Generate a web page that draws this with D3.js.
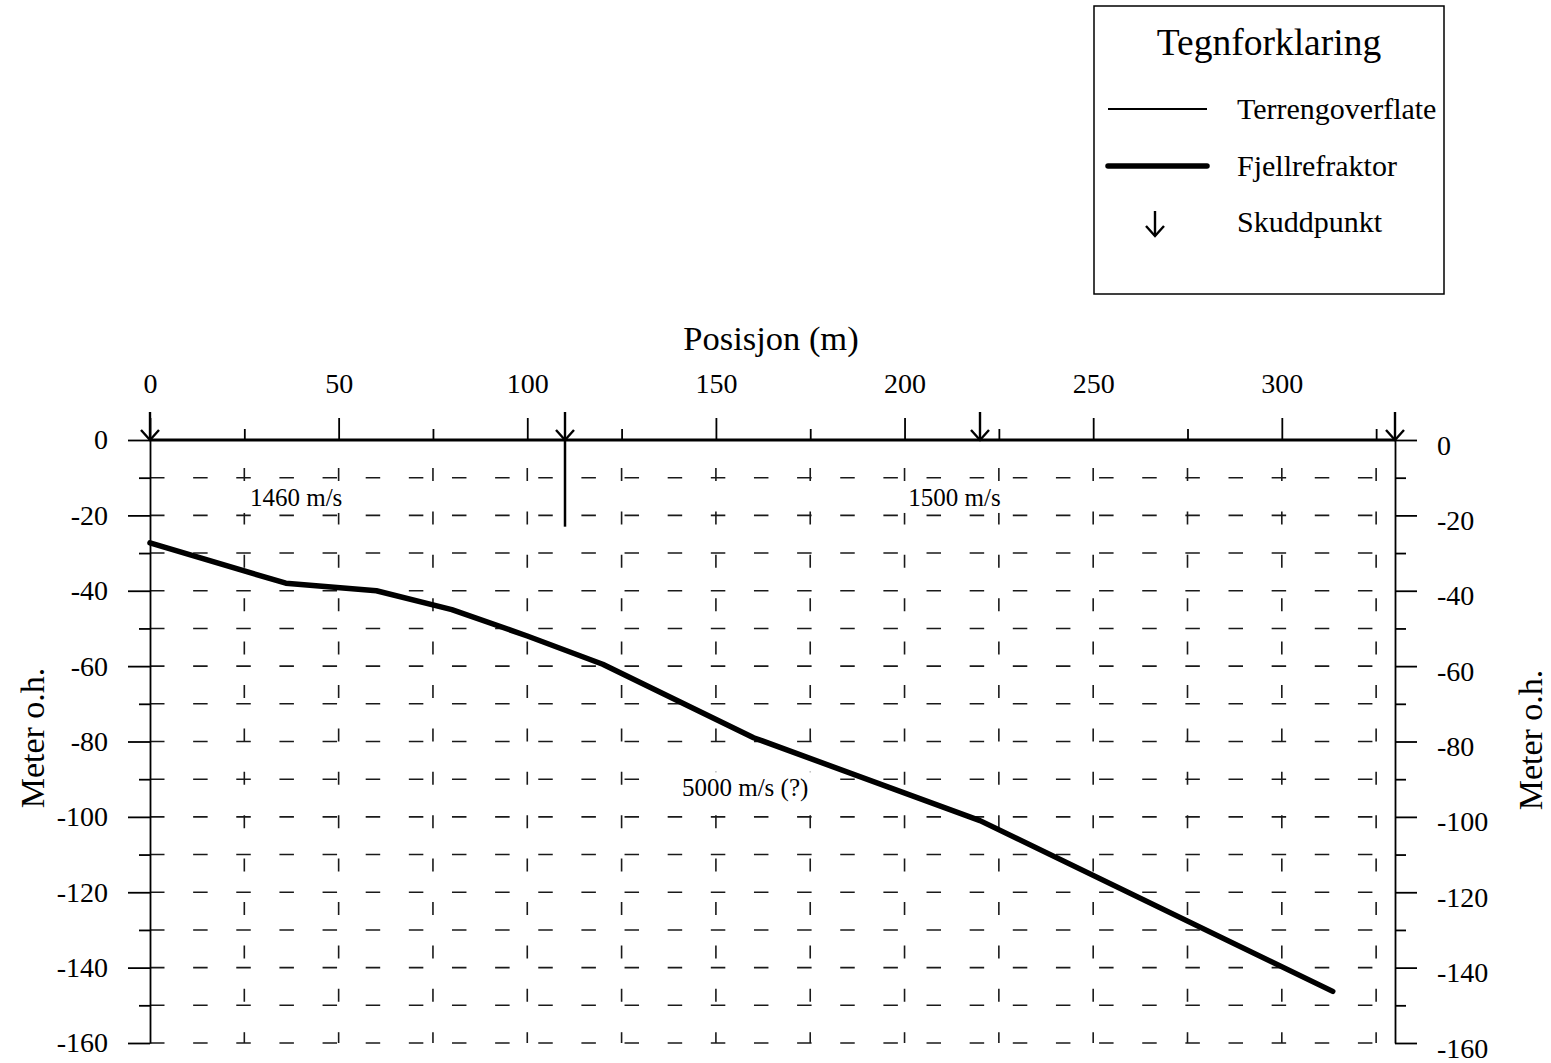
<!DOCTYPE html>
<html>
<head>
<meta charset="utf-8">
<script src="https://cdn.jsdelivr.net/npm/d3@7"></script>
<style>
  html, body { margin: 0; padding: 0; background: #fff; }
  svg { display: block; }
  text { font-family: "Liberation Serif", "Times New Roman", serif; fill: #000; }
</style>
</head>
<body>
<svg id="chart" width="1551" height="1063"></svg>
<script>
// ---- Data ----
const xTicksMajor = [0, 50, 100, 150, 200, 250, 300];
const xTicksMinor = [25, 75, 125, 175, 225, 275, 325];
const yTicksMajor = [0, -20, -40, -60, -80, -100, -120, -140, -160];
const yTicksMinor = [-10, -30, -50, -70, -90, -110, -130, -150];
const gridX = [25, 50, 75, 100, 125, 150, 175, 200, 225, 250, 275, 300, 325];
const gridY = [-10, -20, -30, -40, -50, -60, -70, -80, -90, -100, -110, -120, -130, -140, -150, -160];

// Terrain surface (Terrengoverflate)
const terrainX = [0, 110, 220, 330];
const terrainY = [0, 0, 0, 0];

// Bedrock refractor (Fjellrefraktor)
const refrX = [0, 36, 60, 80, 100, 120, 160, 220, 313.5];
const refrY = [-27.3, -38, -40, -45, -52, -59.5, -79, -101, -146.3];

// Shot points (Skuddpunkt)
const shotX = [0, 110, 220, 330];

// Layer boundary marker in the upper layer
const boundaryX = [110, 110];
const boundaryY = [0, -23];

// Velocity labels
const velLabels = ["1460 m/s", "1500 m/s", "5000 m/s (?)"];
const velX = [26.5, 201, 141];
const velY = [-17.5, -17.5, -94.5];

const legendLabels = ["Terrengoverflate", "Fjellrefraktor", "Skuddpunkt"];

// ---- Scales ----
const svg = d3.select("#chart");
const x = d3.scaleLinear().domain([0, 330]).range([150, 1395]);
const y = d3.scaleLinear().domain([-160, 0]).range([1043, 440]);
const fmt = d => String(d);

// ---- Grid ----
const grid = svg.append("g").attr("stroke", "#1a1a1a").attr("stroke-width", 1.6).attr("fill", "none");
grid.selectAll("line.h").data(gridY).join("line")
  .attr("class", "h")
  .attr("x1", x(0)).attr("x2", x(330))
  .attr("y1", d => y(d)).attr("y2", d => y(d))
  .attr("stroke-dasharray", "14.5 28.64");
grid.selectAll("line.v").data(gridX).join("line")
  .attr("class", "v")
  .attr("x1", d => x(d)).attr("x2", d => x(d))
  .attr("y1", y(0)).attr("y2", y(-160))
  .attr("stroke-dasharray", "13 30.4")
  .attr("stroke-dashoffset", 15.4);

// ---- Axes ----
function styleAxis(g, fontSize) {
  g.selectAll("text").style("font-family", "'Liberation Serif', 'Times New Roman', serif")
    .style("font-size", fontSize + "px").attr("fill", "#000");
  g.selectAll("line").attr("stroke", "#000").attr("stroke-width", 1.8);
  g.select(".domain").attr("stroke", "#000").attr("stroke-width", 1.8);
}
const TF = 28;

// Top axis
const topMaj = svg.append("g").attr("transform", `translate(0,${y(0)})`)
  .call(d3.axisTop(x).tickValues(xTicksMajor).tickFormat(fmt).tickSize(22).tickPadding(25).tickSizeOuter(0));
styleAxis(topMaj, TF);
topMaj.select(".domain").remove();
const topMin = svg.append("g").attr("transform", `translate(0,${y(0)})`)
  .call(d3.axisTop(x).tickValues(xTicksMinor).tickSize(11).tickFormat(""));
styleAxis(topMin, TF);
topMin.select(".domain").remove();

// Left axis
const leftMaj = svg.append("g").attr("transform", `translate(${x(0)},0)`)
  .call(d3.axisLeft(y).tickValues(yTicksMajor).tickFormat(fmt).tickSize(22).tickPadding(20).tickSizeOuter(0));
styleAxis(leftMaj, TF);
const leftMin = svg.append("g").attr("transform", `translate(${x(0)},0)`)
  .call(d3.axisLeft(y).tickValues(yTicksMinor).tickSize(11).tickFormat(""));
styleAxis(leftMin, TF);
leftMin.select(".domain").remove();

// Right axis
const rightMaj = svg.append("g").attr("transform", `translate(${x(330)},0)`)
  .call(d3.axisRight(y).tickValues(yTicksMajor).tickFormat(fmt).tickSize(22).tickPadding(20).tickSizeOuter(0));
styleAxis(rightMaj, TF);
rightMaj.selectAll(".tick text").attr("dy", "0.5em");
const rightMin = svg.append("g").attr("transform", `translate(${x(330)},0)`)
  .call(d3.axisRight(y).tickValues(yTicksMinor).tickSize(11).tickFormat(""));
styleAxis(rightMin, TF);
rightMin.select(".domain").remove();

// ---- Terrain line ----
const line = d3.line().x(d => x(d[0])).y(d => y(d[1]));
svg.append("path")
  .datum(terrainX.map((d, i) => [d, terrainY[i]]))
  .attr("d", line).attr("fill", "none").attr("stroke", "#000").attr("stroke-width", 3);

// ---- Boundary marker ----
svg.append("path")
  .datum(boundaryX.map((d, i) => [d, boundaryY[i]]))
  .attr("d", line).attr("fill", "none").attr("stroke", "#000").attr("stroke-width", 2.5);

// ---- Velocity labels (with white background) ----
const velG = svg.append("g");
velLabels.forEach((lab, i) => {
  const t = velG.append("text")
    .attr("x", x(velX[i])).attr("y", y(velY[i]))
    .style("font-size", "25px").text(lab);
  const bb = t.node().getBBox();
  velG.insert("rect", "text")
    .attr("x", bb.x - 18).attr("y", bb.y - 2)
    .attr("width", bb.width + 36).attr("height", bb.height + 4)
    .attr("fill", "#fff");
});

// ---- Refractor line ----
svg.append("path")
  .datum(refrX.map((d, i) => [d, refrY[i]]))
  .attr("d", line).attr("fill", "none").attr("stroke", "#000")
  .attr("stroke-width", 5.5).attr("stroke-linejoin", "round").attr("stroke-linecap", "round");

// ---- Shot point arrows ----
function arrow(g, cx, yTop, yBot) {
  g.append("line").attr("x1", cx).attr("x2", cx).attr("y1", yTop).attr("y2", yBot)
    .attr("stroke", "#000").attr("stroke-width", 2.4);
  g.append("path")
    .attr("d", `M${cx - 9},${yBot - 10} L${cx},${yBot} L${cx + 9},${yBot - 10}`)
    .attr("fill", "none").attr("stroke", "#000").attr("stroke-width", 2.4);
}
const shots = svg.append("g");
shotX.forEach(s => arrow(shots, x(s), y(0) - 28, y(0)));

// ---- Axis titles ----
svg.append("text").attr("x", 771).attr("y", 350).attr("text-anchor", "middle")
  .style("font-size", "34.5px").text("Posisjon (m)");
svg.append("text").attr("transform", "translate(44,738) rotate(-90)").attr("text-anchor", "middle")
  .style("font-size", "34px").text("Meter o.h.");
svg.append("text").attr("transform", "translate(1542,740) rotate(-90)").attr("text-anchor", "middle")
  .style("font-size", "34px").text("Meter o.h.");

// ---- Legend ----
const lg = svg.append("g");
lg.append("rect").attr("x", 1094).attr("y", 6).attr("width", 350).attr("height", 288)
  .attr("fill", "#fff").attr("stroke", "#000").attr("stroke-width", 1.5);
lg.append("text").attr("x", 1269).attr("y", 55).attr("text-anchor", "middle")
  .style("font-size", "37.5px").text("Tegnforklaring");
lg.append("line").attr("x1", 1108).attr("x2", 1207).attr("y1", 109).attr("y2", 109)
  .attr("stroke", "#000").attr("stroke-width", 2);
lg.append("line").attr("x1", 1108).attr("x2", 1207).attr("y1", 166).attr("y2", 166)
  .attr("stroke", "#000").attr("stroke-width", 5.5).attr("stroke-linecap", "round");
arrow(lg, 1155, 211, 236);
const legY = [119, 176, 232];
lg.selectAll("text.item").data(legendLabels).join("text")
  .attr("class", "item")
  .attr("x", 1237).attr("y", (d, i) => legY[i])
  .style("font-size", "30px").text(d => d);
</script>
</body>
</html>
